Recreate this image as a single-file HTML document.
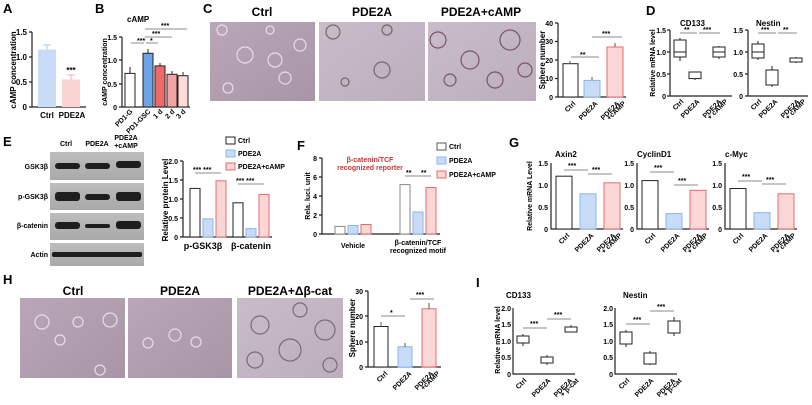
<!DOCTYPE html>
<html><head><meta charset="utf-8"><style>
body{margin:0;background:#fff}
svg{display:block;font-family:"Liberation Sans",Arial,sans-serif;font-weight:bold}
.ax{stroke:#222;stroke-width:1.2;fill:none}
.t{font-size:8px}
.s{font-size:7px}
.L{font-size:13px}
.ti{font-size:12px}
.br{stroke:#666;stroke-width:.8;fill:none}
</style></head><body>
<svg width="812" height="405" viewBox="0 0 812 405">
<defs>
<linearGradient id="img" x1="0" y1="0" x2="1" y2="1"><stop offset="0" stop-color="#b9a7b8"/><stop offset="1" stop-color="#a896a8"/></linearGradient>
<linearGradient id="img2" x1="0" y1="0" x2="1" y2="1"><stop offset="0" stop-color="#c9bcc9"/><stop offset="1" stop-color="#bcaebd"/></linearGradient>
<linearGradient id="blot" x1="0" y1="0" x2="0" y2="1"><stop offset="0" stop-color="#bdbdbd"/><stop offset="1" stop-color="#a9a9a9"/></linearGradient>
</defs>

<!-- A -->
<text x="3" y="13" class="L">A</text>
<text transform="translate(16,70) rotate(-90)" text-anchor="middle" class="t">cAMP concentration</text>
<path class="ax" d="M32,32V107H86M29,32H32M29,57H32M29,82H32M29,107H32"/>
<text x="27" y="35" text-anchor="end" class="t">1.5</text><text x="27" y="60" text-anchor="end" class="t">1.0</text><text x="27" y="85" text-anchor="end" class="t">0.5</text><text x="27" y="110" text-anchor="end" class="t">0</text>
<rect x="38" y="49.5" width="18" height="57.5" fill="#c8dcf8"/><path d="M47,49.5V45M43,45H51" stroke="#a8c4ee" fill="none"/>
<rect x="62" y="79.5" width="18" height="27.5" fill="#fad3d3"/><path d="M71,79.5V75M67,75H75" stroke="#f0b0b0" fill="none"/>
<text x="71" y="73" text-anchor="middle" class="t">***</text>
<text x="47" y="118" text-anchor="middle" class="t">Ctrl</text><text x="72" y="118" text-anchor="middle" class="t">PDE2A</text>

<!-- B -->
<text x="95" y="13" class="L">B</text>
<text x="127" y="22" class="t" font-size="9">cAMP</text>
<text transform="translate(107,72) rotate(-90)" text-anchor="middle" class="s">cAMP concentration</text>
<path class="ax" d="M122,37V107H190M119,37H122M119,60H122M119,84H122M119,107H122"/>
<text x="117" y="40" text-anchor="end" class="s">1.5</text><text x="117" y="63" text-anchor="end" class="s">1.0</text><text x="117" y="87" text-anchor="end" class="s">0.5</text><text x="117" y="110" text-anchor="end" class="s">0</text>
<g stroke="#222" stroke-width="1">
<rect x="125" y="73.4" width="10" height="33.6" fill="#fff"/><rect x="143" y="53.3" width="10" height="53.7" fill="#6fa3e8"/>
<rect x="155" y="65.9" width="10" height="41.1" fill="#ee6a6a"/><rect x="167" y="74.3" width="10" height="32.7" fill="#f2a3a3"/><rect x="178" y="75.7" width="10" height="31.3" fill="#fbdada"/>
<path d="M130,73V67M148,53V49M160,66V63M172,74V71M183,75V72" fill="none"/></g>
<path class="br" d="M131,43H144M146,43H158M145,37H172M145,29H187"/>
<text x="137" y="43" class="s">***</text><text x="150" y="43" class="s">*</text><text x="152" y="36" class="s">***</text><text x="161" y="28" class="s">***</text>
<g class="s"><text transform="translate(133,112) rotate(-45)" text-anchor="end">PD1-G</text><text transform="translate(151,112) rotate(-45)" text-anchor="end">PD1-GSC</text><text transform="translate(163,112) rotate(-45)" text-anchor="end">1 d</text><text transform="translate(175,112) rotate(-45)" text-anchor="end">2 d</text><text transform="translate(186,112) rotate(-45)" text-anchor="end">3 d</text></g>

<!-- C -->
<text x="203" y="13" class="L">C</text>
<text x="262" y="16" text-anchor="middle" class="ti">Ctrl</text><text x="372" y="16" text-anchor="middle" class="ti">PDE2A</text><text x="481" y="16" text-anchor="middle" class="ti">PDE2A+cAMP</text>
<rect x="210" y="22" width="105" height="79" fill="url(#img)"/><rect x="319" y="22" width="106" height="79" fill="url(#img2)"/><rect x="428" y="22" width="108" height="79" fill="url(#img2)"/>
<g fill="none" stroke="#e8dde8" stroke-width="1.2">
<circle cx="222" cy="30" r="5"/><circle cx="245" cy="55" r="8"/><circle cx="275" cy="60" r="7"/><circle cx="285" cy="78" r="6"/><circle cx="300" cy="45" r="6"/><circle cx="228" cy="88" r="5"/><circle cx="270" cy="30" r="4"/>
<circle cx="333" cy="32" r="7" stroke="#766"/><circle cx="382" cy="70" r="8" stroke="#766"/><circle cx="387" cy="30" r="5" stroke="#766"/><circle cx="345" cy="82" r="4" stroke="#766"/>
<circle cx="438" cy="40" r="8" stroke="#756"/><circle cx="470" cy="60" r="9" stroke="#756"/><circle cx="510" cy="40" r="10" stroke="#756"/><circle cx="495" cy="80" r="8" stroke="#756"/><circle cx="450" cy="80" r="6" stroke="#756"/><circle cx="525" cy="70" r="7" stroke="#756"/></g>
<text transform="translate(545,60) rotate(-90)" text-anchor="middle" class="t">Sphere number</text>
<path class="ax" d="M558,23V97H626M555,23H558M555,41.5H558M555,60H558M555,78.5H558M555,97H558"/>
<text x="553" y="26" text-anchor="end" class="s">40</text><text x="553" y="44" text-anchor="end" class="s">30</text><text x="553" y="63" text-anchor="end" class="s">20</text><text x="553" y="81" text-anchor="end" class="s">10</text><text x="553" y="100" text-anchor="end" class="s">0</text>
<rect x="563" y="63.7" width="15" height="33.3" fill="#fff" stroke="#222"/><rect x="584" y="80.4" width="16" height="16.6" fill="#c8dcf8" stroke="#8ab4ec"/><rect x="607" y="47" width="16" height="50" fill="#fbd6d6" stroke="#e46c6c"/>
<path d="M570,64V61M592,80V77M615,47V43" stroke="#555" fill="none"/>
<path class="br" d="M571,57H599M592,37H622"/><text x="580" y="57" class="s">**</text><text x="602" y="36" class="s">***</text>
<g class="s"><text transform="translate(576,104) rotate(-45)" text-anchor="end">Ctrl</text><text transform="translate(598,104) rotate(-45)" text-anchor="end">PDE2A</text><text transform="translate(620,104) rotate(-45)" text-anchor="end">PDE2A</text><text transform="translate(626,104) rotate(-45)" text-anchor="end">+cAMP</text></g>

<!-- D -->
<text x="646" y="15" class="L">D</text>
<text x="680" y="26" class="t">CD133</text><text x="756" y="26" class="t">Nestin</text>
<text transform="translate(655,63) rotate(-90)" text-anchor="middle" class="s">Relative mRNA level</text>
<path class="ax" d="M670,30V96H732M667,30H670M667,52H670M667,74H670M667,96H670"/>
<text x="666" y="33" text-anchor="end" class="s">1.5</text><text x="666" y="55" text-anchor="end" class="s">1.0</text><text x="666" y="77" text-anchor="end" class="s">0.5</text><text x="666" y="99" text-anchor="end" class="s">0</text>
<g fill="#fff" stroke="#222"><path d="M680,38V61M695,75V80M719,46V59" /><rect x="674" y="40" width="12" height="17"/><line x1="674" y1="52" x2="686" y2="52"/><rect x="689" y="72" width="12" height="6.6"/><rect x="713" y="47" width="12" height="10"/><line x1="713" y1="52" x2="725" y2="52"/></g>
<path class="br" d="M680,33H697M699,33H720"/><text x="684" y="32" class="s">**</text><text x="703" y="32" class="s">***</text>
<path class="ax" d="M748,30V96H808M745,30H748M745,52H748M745,74H748M745,96H748"/>
<text x="743" y="33" text-anchor="end" class="s">1.5</text><text x="743" y="55" text-anchor="end" class="s">1.0</text><text x="743" y="77" text-anchor="end" class="s">0.5</text><text x="743" y="99" text-anchor="end" class="s">0</text>
<g fill="#fff" stroke="#222"><path d="M758,41V60M772,66V87M796,57V63"/><rect x="752" y="44" width="12" height="14"/><line x1="752" y1="52" x2="764" y2="52"/><rect x="766" y="70" width="12" height="15"/><rect x="790" y="58" width="12" height="4"/></g>
<path class="br" d="M758,33H776M778,33H797"/><text x="761" y="32" class="s">***</text><text x="783" y="32" class="s">**</text>
<g class="s"><text transform="translate(684,102) rotate(-45)" text-anchor="end">Ctrl</text><text transform="translate(700,102) rotate(-45)" text-anchor="end">PDE2A</text><text transform="translate(722,102) rotate(-45)" text-anchor="end">PDE2A</text><text transform="translate(728,102) rotate(-45)" text-anchor="end">+ cAMP</text>
<text transform="translate(762,102) rotate(-45)" text-anchor="end">Ctrl</text><text transform="translate(778,102) rotate(-45)" text-anchor="end">PDE2A</text><text transform="translate(800,102) rotate(-45)" text-anchor="end">PDE2A</text><text transform="translate(806,102) rotate(-45)" text-anchor="end">+ cAMP</text></g>

<!-- E -->
<text x="3" y="146" class="L">E</text>
<text x="66" y="146" text-anchor="middle" class="s">Ctrl</text><text x="97" y="146" text-anchor="middle" class="s">PDE2A</text><text x="126" y="140" text-anchor="middle" class="s">PDE2A</text><text x="126" y="148" text-anchor="middle" class="s">+cAMP</text>
<rect x="50" y="152" width="94" height="28" fill="url(#blot)"/><rect x="50" y="183" width="94" height="27" fill="url(#blot)"/><rect x="50" y="213" width="94" height="27" fill="url(#blot)"/><rect x="50" y="243" width="94" height="23" fill="url(#blot)"/>
<g fill="#1e1e1e"><rect x="55" y="163" width="25" height="6" rx="3"/><rect x="85" y="163" width="25" height="6" rx="3"/><rect x="116" y="161" width="25" height="7" rx="3"/>
<rect x="55" y="192" width="25" height="9" rx="3"/><rect x="85" y="194" width="25" height="6" rx="3"/><rect x="116" y="192" width="25" height="9" rx="3"/>
<rect x="55" y="222" width="25" height="7" rx="3"/><rect x="85" y="224" width="25" height="4" rx="2"/><rect x="116" y="221" width="25" height="8" rx="3"/>
<rect x="52" y="252" width="90" height="5" rx="2"/></g>
<g class="s" text-anchor="end"><text x="48" y="169">GSK3β</text><text x="48" y="199">p-GSK3β</text><text x="48" y="228">β-catenin</text><text x="48" y="257">Actin</text></g>
<g class="s"><rect x="226" y="137" width="9" height="7" fill="#fff" stroke="#222"/><text x="238" y="143">Ctrl</text><rect x="226" y="150" width="9" height="7" fill="#c8dcf8" stroke="#8ab4ec"/><text x="238" y="156">PDE2A</text><rect x="226" y="163" width="9" height="7" fill="#fbd6d6" stroke="#e46c6c"/><text x="238" y="169">PDE2A+cAMP</text></g>
<text transform="translate(168,200) rotate(-90)" text-anchor="middle" class="t">Relative protein Level</text>
<path class="ax" d="M183,161V237H272M180,161H183M180,180H183M180,199H183M180,218H183M180,237H183"/>
<g class="s" text-anchor="end"><text x="178" y="164">2.0</text><text x="178" y="183">1.5</text><text x="178" y="202">1.0</text><text x="178" y="221">0.5</text><text x="178" y="240">0</text></g>
<rect x="190" y="188.4" width="10" height="48.6" fill="#fff" stroke="#222"/><rect x="203" y="218.8" width="10" height="18.2" fill="#c8dcf8" stroke="#8ab4ec"/><rect x="216" y="180.8" width="10" height="56.2" fill="#fbd6d6" stroke="#e46c6c"/>
<rect x="233" y="202.8" width="10" height="34.2" fill="#fff" stroke="#222"/><rect x="246" y="228.6" width="10" height="8.4" fill="#c8dcf8" stroke="#8ab4ec"/><rect x="259" y="194.4" width="10" height="42.6" fill="#fbd6d6" stroke="#e46c6c"/>
<path class="br" d="M195,173H208M208,173H221M238,184H251M251,184H264"/><g class="s"><text x="193" y="172">*** ***</text><text x="236" y="183">*** ***</text></g>
<text x="203" y="249" text-anchor="middle" font-size="9">p-GSK3β</text><text x="251" y="249" text-anchor="middle" font-size="9">β-catenin</text>

<!-- F -->
<text x="297" y="150" class="L">F</text>
<text x="370" y="162" text-anchor="middle" class="s" fill="#c0393b">β-catenin/TCF</text><text x="370" y="170" text-anchor="middle" class="s" fill="#c0393b">recognized reporter</text>
<g class="s"><rect x="437" y="143" width="9" height="7" fill="#fff" stroke="#555"/><text x="449" y="149">Ctrl</text><rect x="437" y="157" width="9" height="7" fill="#c8dcf8" stroke="#8ab4ec"/><text x="449" y="163">PDE2A</text><rect x="437" y="171" width="9" height="7" fill="#fbd6d6" stroke="#e46c6c"/><text x="449" y="177">PDE2A+cAMP</text></g>
<text transform="translate(310,196) rotate(-90)" text-anchor="middle" class="s">Rela. luci. unit</text>
<path class="ax" d="M322,158V234H440M319,158H322M319,177H322M319,196H322M319,215H322M319,234H322"/>
<g class="s" text-anchor="end"><text x="317" y="161">8</text><text x="317" y="180">6</text><text x="317" y="199">4</text><text x="317" y="218">2</text><text x="317" y="237">0</text></g>
<rect x="335" y="226.4" width="10" height="7.6" fill="#fff" stroke="#888"/><rect x="348" y="225.5" width="10" height="8.5" fill="#c8dcf8" stroke="#8ab4ec"/><rect x="361" y="224.5" width="10" height="9.5" fill="#fbd6d6" stroke="#e46c6c"/>
<rect x="400" y="184.6" width="10" height="49.4" fill="#fff" stroke="#888"/><rect x="413" y="212" width="10" height="22" fill="#c8dcf8" stroke="#8ab4ec"/><rect x="426" y="187.5" width="10" height="46.5" fill="#fbd6d6" stroke="#e46c6c"/>
<path class="br" d="M405,176H418M418,176H431"/><text x="406" y="175" class="s">**</text><text x="421" y="175" class="s">**</text>
<text x="353" y="248" text-anchor="middle" class="s">Vehicle</text><text x="418" y="245" text-anchor="middle" class="s">β-catenin/TCF</text><text x="418" y="253" text-anchor="middle" class="s">recognized motif</text>

<!-- G -->
<text x="509" y="147" class="L">G</text>
<text transform="translate(532,196) rotate(-90)" text-anchor="middle" class="s">Relative mRNA Level</text>
<text x="555" y="157" class="t">Axin2</text><text x="637" y="157" class="t">CyclinD1</text><text x="725" y="157" class="t">c-Myc</text>
<g class="s" text-anchor="end"><text x="548" y="166">1.5</text><text x="548" y="188">1.0</text><text x="548" y="210">0.5</text><text x="548" y="232">0</text>
<text x="634" y="166">1.5</text><text x="634" y="188">1.0</text><text x="634" y="210">0.5</text><text x="634" y="232">0</text>
<text x="722" y="166">1.5</text><text x="722" y="188">1.0</text><text x="722" y="210">0.5</text><text x="722" y="232">0</text></g>
<path class="ax" d="M551,163V229H623M637,163V229H709M725,163V229H797"/>
<rect x="556" y="176.2" width="16" height="52.8" fill="#fff" stroke="#222"/><rect x="580" y="193.8" width="16" height="35.2" fill="#c8dcf8" stroke="#8ab4ec"/><rect x="604" y="182.8" width="16" height="46.2" fill="#fbd6d6" stroke="#e46c6c"/>
<rect x="642" y="180.6" width="16" height="48.4" fill="#fff" stroke="#222"/><rect x="666" y="213.6" width="16" height="15.4" fill="#c8dcf8" stroke="#8ab4ec"/><rect x="690" y="190.3" width="16" height="38.7" fill="#fbd6d6" stroke="#e46c6c"/>
<rect x="730" y="188.5" width="16" height="40.5" fill="#fff" stroke="#222"/><rect x="754" y="212.7" width="16" height="16.3" fill="#c8dcf8" stroke="#8ab4ec"/><rect x="778" y="193.8" width="16" height="35.2" fill="#fbd6d6" stroke="#e46c6c"/>
<path class="br" d="M564,170H588M588,174H612M650,172H674M674,185H698M738,181H762M762,184H786"/>
<g class="s"><text x="568" y="168">***</text><text x="592" y="172">***</text><text x="654" y="170">***</text><text x="678" y="183">***</text><text x="742" y="179">***</text><text x="766" y="182">***</text></g>
<g class="s" text-anchor="end"><text transform="translate(570,236) rotate(-45)">Ctrl</text><text transform="translate(594,236) rotate(-45)">PDE2A</text><text transform="translate(616,236) rotate(-45)">PDE2A</text><text transform="translate(622,236) rotate(-45)">+ cAMP</text>
<text transform="translate(656,236) rotate(-45)">Ctrl</text><text transform="translate(680,236) rotate(-45)">PDE2A</text><text transform="translate(702,236) rotate(-45)">PDE2A</text><text transform="translate(708,236) rotate(-45)">+ cAMP</text>
<text transform="translate(744,236) rotate(-45)">Ctrl</text><text transform="translate(768,236) rotate(-45)">PDE2A</text><text transform="translate(790,236) rotate(-45)">PDE2A</text><text transform="translate(796,236) rotate(-45)">+ cAMP</text></g>

<!-- H -->
<text x="3" y="284" class="L">H</text>
<text x="73" y="295" text-anchor="middle" class="ti">Ctrl</text><text x="180" y="295" text-anchor="middle" class="ti">PDE2A</text><text x="290" y="295" text-anchor="middle" class="ti">PDE2A+Δβ-cat</text>
<rect x="20" y="298" width="105" height="80" fill="url(#img)"/><rect x="128" y="298" width="104" height="80" fill="url(#img)"/><rect x="237" y="298" width="106" height="80" fill="url(#img2)"/>
<g fill="none" stroke="#e8dde8" stroke-width="1.2"><circle cx="42" cy="322" r="7"/><circle cx="110" cy="320" r="7"/><circle cx="78" cy="322" r="5"/><circle cx="60" cy="340" r="5"/><circle cx="100" cy="370" r="5"/><circle cx="175" cy="335" r="6"/><circle cx="148" cy="343" r="5"/><circle cx="196" cy="342" r="5"/>
<g stroke="#7a6a7a"><circle cx="260" cy="325" r="9"/><circle cx="290" cy="350" r="11"/><circle cx="325" cy="330" r="10"/><circle cx="300" cy="310" r="7"/><circle cx="255" cy="360" r="8"/><circle cx="330" cy="365" r="7"/></g></g>
<text transform="translate(355,328) rotate(-90)" text-anchor="middle" class="t">Sphere number</text>
<path class="ax" d="M368,291V367H441M365,291H368M365,316H368M365,342H368M365,367H368"/>
<g class="s" text-anchor="end"><text x="363" y="294">30</text><text x="363" y="319">20</text><text x="363" y="345">10</text><text x="363" y="370">0</text></g>
<rect x="374" y="326.5" width="14" height="40.5" fill="#fff" stroke="#222"/><rect x="398" y="346.8" width="14" height="20.2" fill="#c8dcf8" stroke="#8ab4ec"/><rect x="422" y="308.8" width="14" height="58.2" fill="#fbd6d6" stroke="#e46c6c"/>
<path d="M381,327V322M405,347V343M429,309V303" stroke="#555" fill="none"/>
<path class="br" d="M381,316H405M410,299H434"/><text x="390" y="315" class="s">*</text><text x="416" y="297" class="s">***</text>
<g class="s" text-anchor="end"><text transform="translate(388,374) rotate(-45)">Ctrl</text><text transform="translate(412,374) rotate(-45)">PDE2A</text><text transform="translate(434,374) rotate(-45)">PDE2A</text><text transform="translate(440,374) rotate(-45)">+cAMP</text></g>

<!-- I -->
<text x="476" y="287" class="L">I</text>
<text x="506" y="298" class="t">CD133</text><text x="623" y="298" class="t">Nestin</text>
<text transform="translate(500,340) rotate(-90)" text-anchor="middle" class="s">Relative mRNA level</text>
<path class="ax" d="M513,308V374H575M615,308V374H677"/>
<g class="s" text-anchor="end"><text x="511" y="311">2.0</text><text x="511" y="327">1.5</text><text x="511" y="344">1.0</text><text x="511" y="360">0.5</text><text x="511" y="377">0</text>
<text x="613" y="311">2.0</text><text x="613" y="327">1.5</text><text x="613" y="344">1.0</text><text x="613" y="360">0.5</text><text x="613" y="377">0</text></g>
<g fill="#fff" stroke="#222"><path d="M523,334V346M547,355V365M571,325V332M626,330V347M650,351V365M674,317V336"/>
<rect x="517" y="336" width="12" height="7"/><rect x="541" y="357" width="12" height="6"/><rect x="565" y="327" width="12" height="5"/>
<rect x="620" y="332" width="12" height="12"/><rect x="644" y="353" width="12" height="11"/><rect x="668" y="321" width="12" height="12"/></g>
<path class="br" d="M523,328H547M547,319H571M626,324H650M650,311H674"/>
<g class="s"><text x="530" y="326">***</text><text x="554" y="317">***</text><text x="633" y="322">***</text><text x="657" y="309">***</text></g>
<g class="s" text-anchor="end"><text transform="translate(527,381) rotate(-45)">Ctrl</text><text transform="translate(551,381) rotate(-45)">PDE2A</text><text transform="translate(573,381) rotate(-45)">PDE2A</text><text transform="translate(579,381) rotate(-45)">+ β-cat</text>
<text transform="translate(630,381) rotate(-45)">Ctrl</text><text transform="translate(654,381) rotate(-45)">PDE2A</text><text transform="translate(676,381) rotate(-45)">PDE2A</text><text transform="translate(682,381) rotate(-45)">+ β-cat</text></g>
</svg>
</body></html>
